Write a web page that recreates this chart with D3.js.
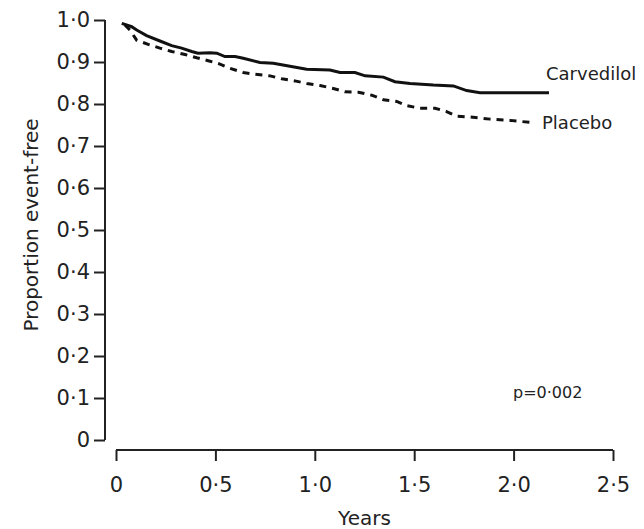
<!DOCTYPE html>
<html lang="en">
<head>
    <meta charset="UTF-8">
    <title> Event-free survival </title>
    <script src="https://d3js.org/d3.v7.min.js" charset="utf-8"></script>
    <style>
        body { margin: 0; background: #ffffff; }
        text { font-family: "DejaVu Sans", sans-serif; fill: #222; }
    </style>
</head>
<body>
    <div id="km"></div>

    <script>
    // values
    var yTicks = [0, 0.1, 0.2, 0.3, 0.4, 0.5, 0.6, 0.7, 0.8, 0.9, 1.0];
    var xTicks = [0, 0.5, 1.0, 1.5, 2.0, 2.5];
    var seriesNames = ["Carvedilol", "Placebo"];

    var carvedilolYears = [0.029, 0.079, 0.104, 0.154, 0.221, 0.280, 0.330, 0.381, 0.412, 0.473, 0.507, 0.548, 0.599, 0.640, 0.724, 0.791, 0.875, 0.959, 1.076, 1.127, 1.202, 1.253, 1.345, 1.403, 1.479, 1.596, 1.697, 1.764, 1.831, 2.178];
    var carvedilolValues = [0.992, 0.984, 0.976, 0.963, 0.950, 0.939, 0.933, 0.925, 0.921, 0.922, 0.921, 0.913, 0.913, 0.909, 0.899, 0.897, 0.890, 0.883, 0.881, 0.875, 0.875, 0.867, 0.864, 0.853, 0.849, 0.845, 0.843, 0.832, 0.827, 0.827];

    var placeboYears = [0.045, 0.070, 0.104, 0.162, 0.221, 0.280, 0.347, 0.406, 0.464, 0.523, 0.573, 0.640, 0.699, 0.775, 0.834, 0.900, 0.959, 1.026, 1.093, 1.152, 1.219, 1.286, 1.345, 1.412, 1.462, 1.529, 1.605, 1.663, 1.714, 1.781, 1.881, 1.982, 2.108];
    var placeboValues = [0.988, 0.976, 0.952, 0.942, 0.933, 0.925, 0.918, 0.910, 0.903, 0.895, 0.885, 0.875, 0.871, 0.867, 0.860, 0.855, 0.849, 0.844, 0.837, 0.829, 0.828, 0.821, 0.810, 0.806, 0.796, 0.790, 0.790, 0.782, 0.771, 0.769, 0.764, 0.761, 0.755];

    var pLabel = "p=0\u00b7002";

    function fmt(d) {
        return d === 0 ? "0" : d3.format(".1f")(d).replace(".", "\u00b7");
    }

    var width = 644, height = 529;

    var svg = d3.select("#km")
      .append("svg")
        .attr("width", width)
        .attr("height", height);

    var x = d3.scaleLinear().domain([0, 2.5]).range([116, 613]);
    var y = d3.scaleLinear().domain([0, 1]).range([440, 20]);

    // y axis
    var yAxis = svg.append("g")
        .attr("transform", "translate(105,0)")
        .call(d3.axisLeft(y).tickValues(yTicks).tickFormat(fmt).tickSize(11).tickPadding(4));
    yAxis.select(".domain").attr("d", "M0," + y(1) + "V" + y(0));

    // x axis, set apart below the y axis
    var xAxis = svg.append("g")
        .attr("transform", "translate(0,450)")
        .call(d3.axisBottom(x).tickValues(xTicks).tickFormat(fmt).tickSize(11).tickPadding(16));
    xAxis.select(".domain").attr("d", "M" + x(0) + ",0H" + x(2.5));

    svg.selectAll(".domain, .tick line")
        .attr("stroke", "#222")
        .attr("stroke-width", 2);
    svg.selectAll(".tick text")
        .style("font-size", "21px")
        .attr("fill", "#222");

    svg.append("text")
        .attr("transform", "translate(38," + 225 + ") rotate(-90)")
        .style("text-anchor", "middle")
        .style("font-size", "20px")
        .text("Proportion event-free");

    svg.append("text")
        .attr("x", x(1.25))
        .attr("y", 525)
        .style("text-anchor", "middle")
        .style("font-size", "20px")
        .text("Years");

    var line = d3.line()
        .x(function (d) { return x(d[0]); })
        .y(function (d) { return y(d[1]); });

    svg.append("path")
        .datum(d3.zip(carvedilolYears, carvedilolValues))
        .attr("d", line)
        .attr("fill", "none")
        .attr("stroke", "#111")
        .attr("stroke-width", 3);

    svg.append("path")
        .datum(d3.zip(placeboYears, placeboValues))
        .attr("d", line)
        .attr("fill", "none")
        .attr("stroke", "#111")
        .attr("stroke-width", 3)
        .attr("stroke-dasharray", "7,6");

    // series labels
    svg.append("text")
        .attr("x", 546).attr("y", 80)
        .style("font-size", "18px")
        .text(seriesNames[0]);
    svg.append("text")
        .attr("x", 542).attr("y", 129)
        .style("font-size", "18px")
        .text(seriesNames[1]);

    svg.append("text")
        .attr("x", 513).attr("y", 398)
        .style("font-size", "16px")
        .text(pLabel);
    </script>
</body>
</html>
